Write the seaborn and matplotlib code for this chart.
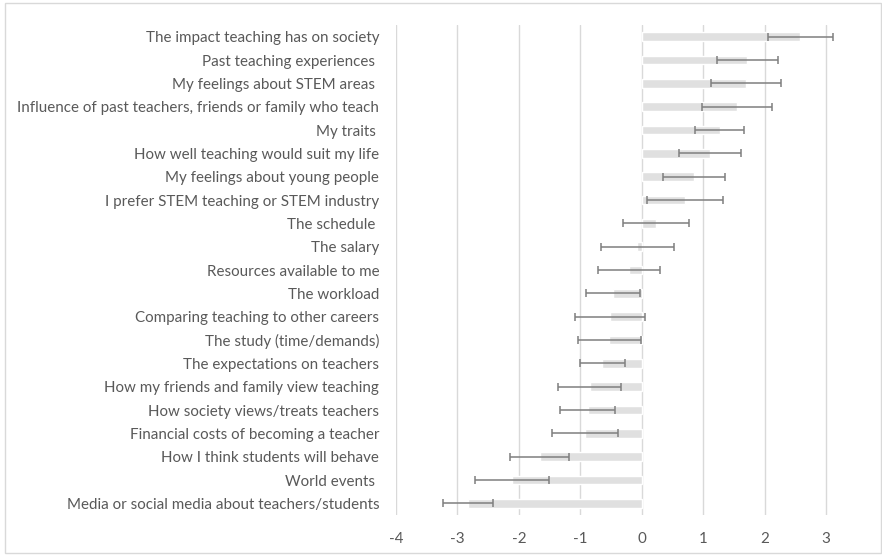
import matplotlib
matplotlib.use("Agg")
import matplotlib.pyplot as plt
import seaborn as sns
import pandas as pd
from matplotlib.patches import Rectangle

categories = [
    "The impact teaching has on society",
    "Past teaching experiences ",
    "My feelings about STEM areas ",
    "Influence of past teachers, friends or family who teach",
    "My traits ",
    "How well teaching would suit my life",
    "My feelings about young people",
    "I prefer STEM teaching or STEM industry",
    "The schedule ",
    "The salary",
    "Resources available to me",
    "The workload",
    "Comparing teaching to other careers",
    "The study (time/demands)",
    "The expectations on teachers",
    "How my friends and family view teaching",
    "How society views/treats teachers",
    "Financial costs of becoming a teacher",
    "How I think students will behave",
    "World events ",
    "Media or social media about teachers/students",
]
means = [2.58, 1.72, 1.70, 1.55, 1.27, 1.11, 0.85, 0.70, 0.23, -0.07, -0.21,
         -0.47, -0.51, -0.53, -0.64, -0.85, -0.88, -0.92, -1.66, -2.11, -2.83]
errors = [0.53, 0.49, 0.57, 0.57, 0.40, 0.51, 0.50, 0.62, 0.54, 0.60, 0.51,
          0.44, 0.57, 0.51, 0.36, 0.51, 0.45, 0.54, 0.48, 0.60, 0.41]
xticks = [-4, -3, -2, -1, 0, 1, 2, 3]

df = pd.DataFrame({"category": categories, "mean": means, "err": errors})

sns.set_style("white")
plt.rcParams["font.family"] = ["Lato", "DejaVu Sans"]

fig = plt.figure(figsize=(8.82, 5.56), dpi=100)
ax = fig.add_axes([396 / 882, 1 - 515 / 556, 1 - 396 / 882, 490 / 556])

sns.barplot(data=df, x="mean", y="category", orient="h", color="#e0e0e0",
            width=0.36, errorbar=None, ax=ax, saturation=1, zorder=2)
ax.errorbar(df["mean"], range(len(df)), xerr=df["err"], fmt="none",
            ecolor="#7f7f7f", elinewidth=1.1, capsize=3, capthick=1.1, zorder=3)

ax.set_xlim(-4, 3.91)
ax.set_ylim(len(df) - 0.5, -0.5)
ax.set_xticks(xticks)
ax.set_xticklabels([str(t) for t in xticks])
ax.xaxis.grid(True, color="#d9d9d9", linewidth=1.0, zorder=0)
ax.set_axisbelow(True)
for s in ax.spines.values():
    s.set_visible(False)
ax.tick_params(axis="both", length=0, colors="#595959", labelsize=10.9)
ax.tick_params(axis="y", pad=12)
ax.tick_params(axis="x", pad=12)
ax.set_xlabel("")
ax.set_ylabel("")

fig.patches.append(Rectangle((5 / 882, 3 / 556), 876 / 882, 550 / 556,
                             transform=fig.transFigure, fill=False,
                             edgecolor="#d9d9d9", linewidth=1.0))

fig.savefig("out.png", dpi=100)
